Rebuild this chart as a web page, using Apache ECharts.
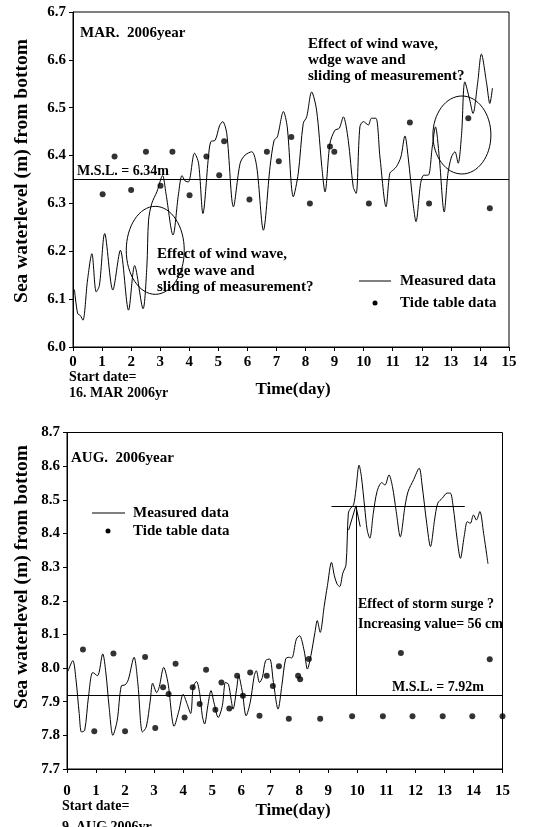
<!DOCTYPE html>
<html><head><meta charset="utf-8">
<script src="https://cdn.jsdelivr.net/npm/echarts/dist/echarts.min.js"></script>
<style>html,body{margin:0;padding:0;background:#fff}#c{width:553px;height:827px}</style>
</head><body><div id="c"></div>
<script>
// ---------------- data ----------------
const dayTicks = [0,1,2,3,4,5,6,7,8,9,10,11,12,13,14,15];

// March 2006 measured sea water level (day, m)
const marTime = [0.05,0.16,0.25,0.34,0.5,0.65,0.8,0.91,1.09,1.37,1.63,1.91,2.12,2.41,2.54,2.6,2.71,2.89,3.08,3.2,3.44,3.63,3.75,3.86,3.97,4.18,4.32,4.47,4.66,4.74,4.89,5.04,5.15,5.29,5.52,5.75,5.92,6.15,6.32,6.55,6.78,6.92,7.03,7.24,7.37,7.58,7.75,7.92,8.04,8.21,8.38,8.56,8.67,8.84,9.01,9.16,9.3,9.47,9.64,9.74,9.87,9.99,10.16,10.27,10.42,10.56,10.77,10.9,11.02,11.13,11.28,11.42,11.53,11.7,11.8,11.96,12.07,12.22,12.36,12.47,12.6,12.77,12.9,13.02,13.14,13.25,13.37,13.48,13.65,13.76,13.92,14.05,14.23,14.34,14.43];
const marLevel = [6.12,6.07,6.066,6.056,6.14,6.195,6.115,6.129,6.237,6.119,6.202,6.077,6.17,6.08,6.167,6.265,6.30,6.325,6.358,6.32,6.234,6.32,6.358,6.347,6.345,6.405,6.384,6.279,6.397,6.429,6.432,6.462,6.471,6.446,6.293,6.384,6.401,6.408,6.377,6.244,6.377,6.432,6.439,6.492,6.46,6.314,6.363,6.467,6.481,6.533,6.495,6.377,6.324,6.425,6.453,6.457,6.481,6.432,6.335,6.321,6.46,6.471,6.464,6.478,6.478,6.397,6.293,6.363,6.37,6.377,6.397,6.441,6.397,6.3,6.262,6.342,6.359,6.359,6.418,6.46,6.397,6.282,6.363,6.397,6.408,6.384,6.446,6.554,6.516,6.488,6.551,6.612,6.551,6.509,6.541];
// March tide table
const marTideTime = [1.02,1.43,2.0,2.51,3.01,3.42,4.01,4.59,5.03,5.2,6.07,6.67,7.08,7.51,8.15,8.84,8.99,10.18,11.59,12.25,13.6,14.34];
const marTideLevel = [6.319,6.398,6.328,6.408,6.337,6.408,6.317,6.398,6.359,6.43,6.308,6.408,6.388,6.439,6.3,6.419,6.408,6.3,6.469,6.3,6.478,6.29];
const marMSL = 6.348;

// August 2006 measured sea water level (day, m)
const augTime = [0.03,0.2,0.31,0.42,0.5,0.61,0.74,0.89,1.05,1.23,1.34,1.45,1.58,1.73,1.87,2.0,2.11,2.31,2.44,2.6,2.73,2.87,2.95,3.09,3.18,3.33,3.48,3.69,3.86,4.0,4.13,4.26,4.35,4.46,4.57,4.66,4.74,4.85,4.96,5.06,5.21,5.35,5.46,5.56,5.65,5.72,5.85,5.91,6.04,6.17,6.31,6.45,6.52,6.63,6.73,6.84,6.98,7.11,7.27,7.4,7.53,7.64,7.74,7.9,8.01,8.17,8.28,8.4,8.54,8.62,8.72,8.86,8.97,9.11,9.21,9.3,9.39,9.5,9.61,9.69,9.77,9.87,9.95,10.06,10.14,10.25,10.34,10.43,10.55,10.68,10.84,10.95,11.09,11.21,11.34,11.48,11.64,11.75,11.94,12.13,12.23,12.39,12.52,12.66,12.77,12.93,13.09,13.2,13.3,13.44,13.55,13.68,13.79,13.89,14.0,14.1,14.22,14.35,14.5];
const augLevel = [7.99,8.022,7.965,7.865,7.81,7.815,7.915,7.987,7.977,8.042,7.985,7.885,7.80,7.845,7.947,7.95,7.965,8.032,7.955,7.81,7.825,7.905,7.955,7.927,7.945,8.002,7.955,7.827,7.875,7.922,7.895,7.865,7.945,7.96,7.925,7.858,7.834,7.888,7.933,7.898,7.853,7.888,7.957,7.952,7.908,7.878,7.943,7.977,7.928,7.858,7.898,7.977,7.992,7.957,7.972,8.022,8.027,7.957,7.878,7.948,8.027,8.032,8.03,8.086,8.096,8.051,7.997,8.037,8.106,8.141,8.106,8.185,8.245,8.314,8.274,8.25,8.242,8.282,8.307,8.46,8.475,8.485,8.529,8.603,8.569,8.48,8.41,8.386,8.46,8.525,8.551,8.544,8.574,8.539,8.465,8.39,8.48,8.525,8.56,8.594,8.544,8.43,8.361,8.44,8.49,8.505,8.52,8.52,8.48,8.381,8.326,8.391,8.435,8.43,8.455,8.44,8.465,8.40,8.31];
// August tide table
const augTideTime = [0.55,0.94,1.6,2.0,2.69,3.04,3.31,3.5,3.74,4.05,4.33,4.57,4.79,5.11,5.32,5.59,5.86,6.06,6.31,6.63,6.88,7.09,7.3,7.64,7.96,8.03,8.33,8.72,9.82,10.88,11.5,11.9,12.94,13.96,14.56,15.0];
const augTideLevel = [8.055,7.812,8.043,7.812,8.033,7.822,7.943,7.923,8.013,7.853,7.943,7.893,7.995,7.876,7.957,7.88,7.977,7.918,7.987,7.858,7.977,7.947,8.005,7.849,7.977,7.967,8.027,7.849,7.857,7.857,8.045,7.857,7.857,7.857,8.026,7.857];
const augMSL = 7.917;
const surgeLevel = 8.482;          // upper reference line
const surgeStart = 9.11, surgeEnd = 13.7, surgeDay = 9.95;

// ---------------- chart ----------------
const FONT = "'Liberation Serif','Times New Roman','DejaVu Serif',serif";
const pairs = (a, b) => a.map((t, i) => [t, b[i]]);
const chart = echarts.init(document.getElementById('c'), null, {renderer: 'canvas'});

const lab = {fontFamily: FONT, fontWeight: 'bold', fontSize: 15, color: '#000'};
function xAx(gi, margin) {
  return {gridIndex: gi, type: 'value', min: dayTicks[0], max: dayTicks[dayTicks.length - 1], interval: 1,
    axisLine: {onZero: false, lineStyle: {color: '#000', width: 1}},
    axisTick: {length: 4, lineStyle: {color: '#000'}},
    splitLine: {show: false},
    axisLabel: Object.assign({margin: margin}, lab)};
}
function yAx(gi, min, max) {
  return {gridIndex: gi, type: 'value', min: min, max: max, interval: 0.1,
    axisLine: {onZero: false, lineStyle: {color: '#000', width: 1}},
    axisTick: {length: 4, lineStyle: {color: '#000'}},
    splitLine: {show: false},
    axisLabel: Object.assign({margin: 7, formatter: v => v.toFixed(1)}, lab)};
}
const lineSty = {color: '#000', width: 1, type: 'solid'};

chart.setOption({
  animation: false,
  backgroundColor: '#fff',
  grid: [
    {left: 73, top: 12, width: 436, height: 335, show: true, borderColor: '#000', borderWidth: 1},
    {left: 67, top: 432.5, width: 435.5, height: 336.5, show: true, borderColor: '#000', borderWidth: 1}
  ],
  xAxis: [xAx(0, 8), xAx(1, 15)],
  yAxis: [yAx(0, 6.0, 6.7), yAx(1, 7.7, 8.7)],
  series: [
    {type: 'line', name: 'Measured data', xAxisIndex: 0, yAxisIndex: 0, data: pairs(marTime, marLevel),
     smooth: 0.3, symbol: 'none', lineStyle: {color: '#000', width: 1},
     markLine: {silent: true, symbol: 'none', label: {show: false}, lineStyle: lineSty,
       data: [{yAxis: marMSL}]}},
    {type: 'scatter', name: 'Tide table data', xAxisIndex: 0, yAxisIndex: 0, data: pairs(marTideTime, marTideLevel),
     symbolSize: 6, itemStyle: {color: '#000'}},
    {type: 'line', name: 'Measured data', xAxisIndex: 1, yAxisIndex: 1, data: pairs(augTime, augLevel),
     smooth: 0.3, symbol: 'none', lineStyle: {color: '#000', width: 1},
     markLine: {silent: true, symbol: 'none', label: {show: false}, lineStyle: lineSty,
       data: [
         {yAxis: augMSL},
         [{coord: [surgeStart, surgeLevel]}, {coord: [surgeEnd, surgeLevel]}],
         [{coord: [surgeDay, surgeLevel]}, {coord: [surgeDay, augMSL]}],
         [{coord: [9.7, 8.41]}, {coord: [surgeDay, surgeLevel]}],
         [{coord: [surgeDay, surgeLevel]}, {coord: [10.1, 8.42]}]
       ]}},
    {type: 'scatter', name: 'Tide table data', xAxisIndex: 1, yAxisIndex: 1, data: pairs(augTideTime, augTideLevel),
     symbolSize: 6, itemStyle: {color: '#000'}, clip: false}
  ]
});

// ---------------- annotations ----------------
const tb = (x, y, text, size, extra) => Object.assign({type: 'text', x: x, y: y, silent: true,
  style: Object.assign({text: text, font: 'bold ' + size + 'px ' + FONT, fill: '#000',
    textAlign: 'left', verticalAlign: 'middle', textVerticalAlign: 'middle'}, extra || {})});
const p0 = (t, v) => chart.convertToPixel({gridIndex: 0}, [t, v]);
const e1 = p0(2.83, 6.202), e2 = p0(13.38, 6.443);

chart.setOption({graphic: [
  // top chart
  tb(80, 33, 'MAR.  2006year', 15),
  tb(77, 171, 'M.S.L. = 6.34m', 14),
  tb(308, 60, 'Effect of wind wave,\nwdge wave and\nsliding of measurement?', 15, {lineHeight: 16}),
  tb(157, 271, 'Effect of wind wave,\nwdge wave and\nsliding of measurement?', 15, {lineHeight: 16.5}),
  {type: 'ellipse', silent: true, shape: {cx: e1[0], cy: e1[1], rx: 29, ry: 44}, style: {fill: 'none', stroke: '#000', lineWidth: 1}},
  {type: 'ellipse', silent: true, shape: {cx: e2[0], cy: e2[1], rx: 29, ry: 39}, style: {fill: 'none', stroke: '#000', lineWidth: 1}},
  {type: 'line', silent: true, shape: {x1: 359, y1: 281, x2: 391, y2: 281}, style: {stroke: '#000', lineWidth: 1}},
  {type: 'circle', silent: true, shape: {cx: 375, cy: 303, r: 2.5}, style: {fill: '#000'}},
  tb(400, 281, 'Measured data', 15),
  tb(400, 303, 'Tide table data', 15),
  tb(69, 377, 'Start date=', 14),
  tb(69, 393.5, '16. MAR 2006yr', 14),
  tb(293, 390, 'Time(day)', 17, {textAlign: 'center'}),
  {type: 'text', x: 22, y: 171, rotation: Math.PI / 2, silent: true,
   style: {text: 'Sea waterlevel (m) from bottom', font: 'bold 19.5px ' + FONT, fill: '#000', textAlign: 'center', verticalAlign: 'middle', textVerticalAlign: 'middle'}},
  // bottom chart
  tb(71, 458, 'AUG.  2006year', 15),
  {type: 'line', silent: true, shape: {x1: 92, y1: 513, x2: 125, y2: 513}, style: {stroke: '#000', lineWidth: 1}},
  {type: 'circle', silent: true, shape: {cx: 108, cy: 531, r: 2.5}, style: {fill: '#000'}},
  tb(133, 513, 'Measured data', 15),
  tb(133, 531, 'Tide table data', 15),
  tb(358, 604, 'Effect of storm surge ?', 14),
  tb(358, 624, 'Increasing value= 56 cm', 14),
  tb(392, 687, 'M.S.L. = 7.92m', 14),
  tb(62, 806.5, 'Start date=', 14),
  tb(62, 827, '9. AUG 2006yr', 14),
  tb(293, 811, 'Time(day)', 17, {textAlign: 'center'}),
  {type: 'text', x: 22, y: 577, rotation: Math.PI / 2, silent: true,
   style: {text: 'Sea waterlevel (m) from bottom', font: 'bold 19.5px ' + FONT, fill: '#000', textAlign: 'center', verticalAlign: 'middle', textVerticalAlign: 'middle'}}
]});
</script>
</body></html>
